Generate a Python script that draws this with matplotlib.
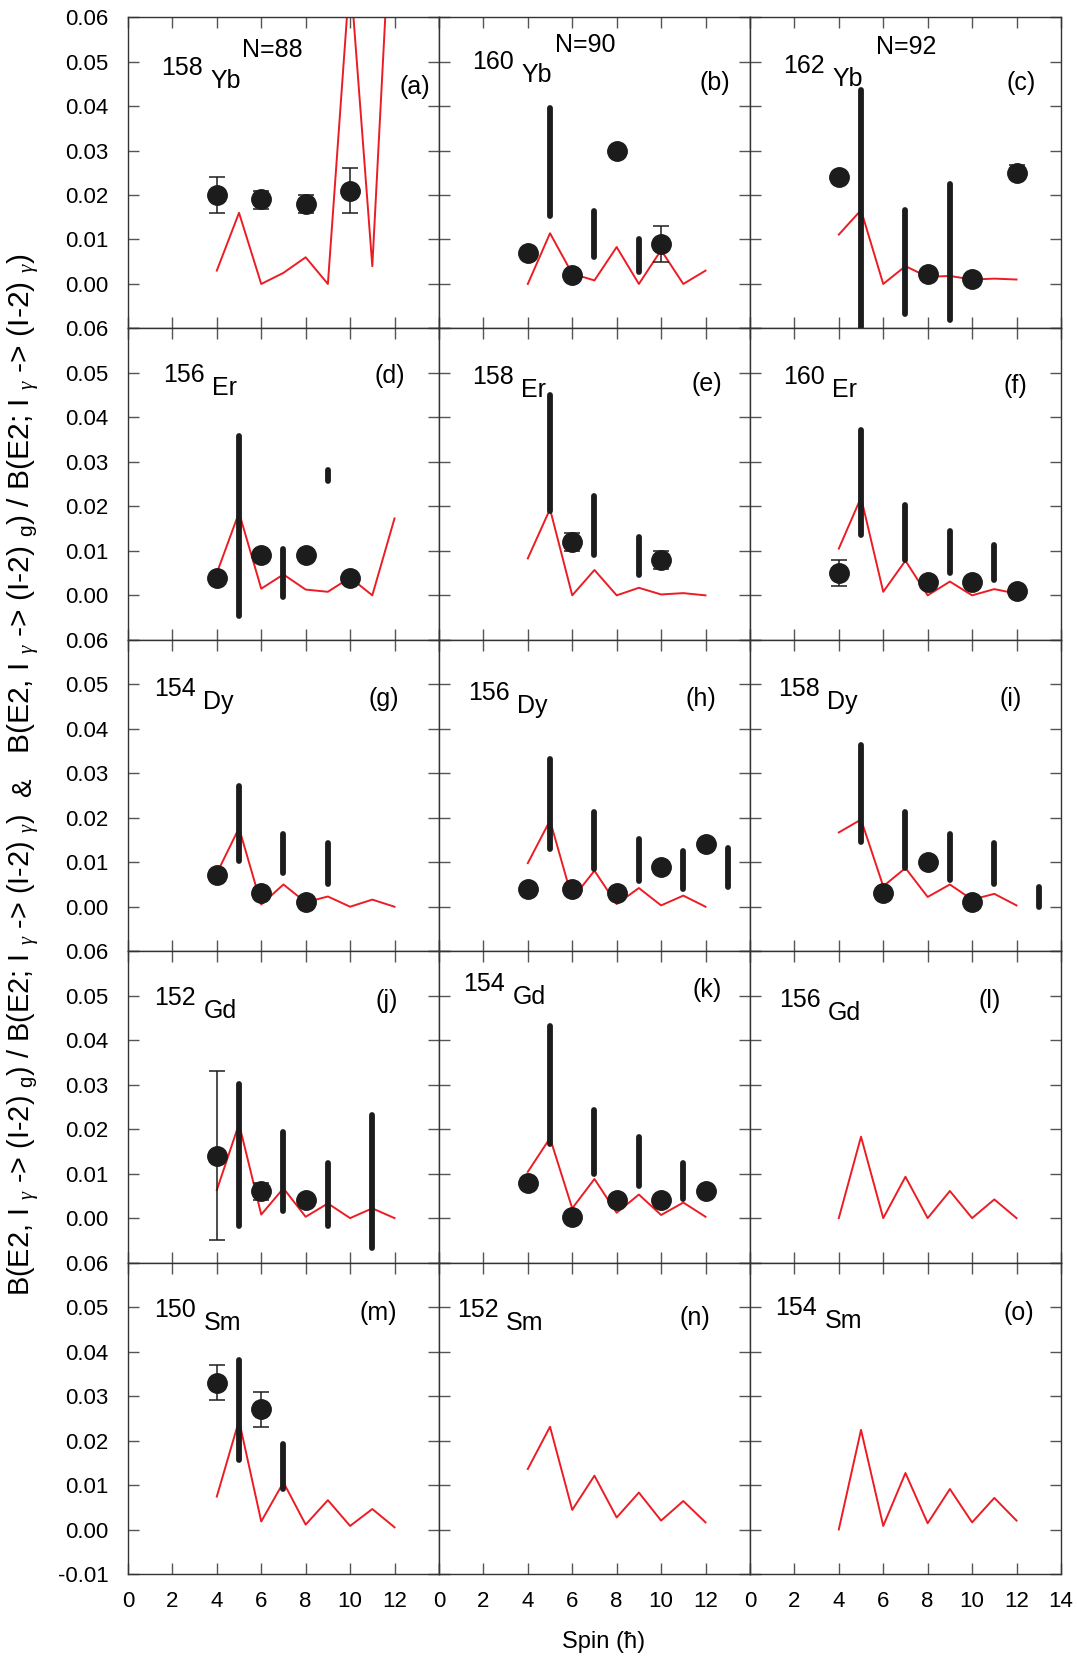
import numpy as np
import matplotlib
matplotlib.use("Agg")
import matplotlib.pyplot as plt

plt.rcParams['font.family'] = ['Liberation Sans', 'DejaVu Sans']
plt.rcParams['mathtext.fontset'] = 'custom'
plt.rcParams['mathtext.rm'] = 'Liberation Sans'
plt.rcParams['mathtext.it'] = 'Liberation Serif:italic'
plt.rcParams['axes.unicode_minus'] = False

# spins of the calculated (red) curves
spin_th = [4, 5, 6, 7, 8, 9, 10, 11, 12]

# calculated ratios, one list per nucleus
th_yb158 = [0.003, 0.016, 0.000, 0.0025, 0.006, 0.000, 0.070, 0.004, 0.100]
th_yb160 = [0.000, 0.0114, 0.0023, 0.0008, 0.0083, 0.000, 0.0076, 0.000, 0.003]
th_yb162 = [0.0111, 0.0166, 0.000, 0.004, 0.0016, 0.0018, 0.001, 0.0012, 0.001]
th_er156 = [0.005, 0.0186, 0.0015, 0.0047, 0.0013, 0.0008, 0.004, 0.000, 0.0173]
th_er158 = [0.0083, 0.0194, 0.000, 0.0057, 0.000, 0.0017, 0.0002, 0.0005, 0.000]
th_er160 = [0.0105, 0.022, 0.0008, 0.0078, 0.000, 0.0031, 0.000, 0.0014, 0.0004]
th_dy154 = [0.0075, 0.0177, 0.0005, 0.005, 0.001, 0.0023, 0.000, 0.0016, 0.000]
th_dy156 = [0.0098, 0.0194, 0.0018, 0.0081, 0.0006, 0.0042, 0.0003, 0.0025, 0.000]
th_dy158 = [0.0167, 0.0196, 0.0046, 0.0087, 0.0022, 0.005, 0.0016, 0.0029, 0.0003]
th_gd152 = [0.0063, 0.0212, 0.0008, 0.0067, 0.0003, 0.0033, 0.000, 0.0022, 0.000]
th_gd154 = [0.0104, 0.018, 0.0022, 0.0088, 0.0012, 0.0053, 0.0007, 0.0035, 0.0003]
th_gd156 = [0.000, 0.0183, 0.000, 0.0093, 0.000, 0.0061, 0.000, 0.0042, 0.000]
th_sm150 = [0.0074, 0.0245, 0.0018, 0.0106, 0.0011, 0.0066, 0.0008, 0.0046, 0.0005]
th_sm152 = [0.0136, 0.0231, 0.0044, 0.0121, 0.0027, 0.0083, 0.002, 0.0064, 0.0016]
th_sm154 = [0.000, 0.0224, 0.0008, 0.0127, 0.0014, 0.0091, 0.0016, 0.0071, 0.002]

# experimental even-spin points: spin, value, error low, error high (None = no bar)
ex_yb158 = ([4, 6, 8, 10], [0.020, 0.019, 0.018, 0.021],
            [0.016, 0.0169, 0.0159, 0.016], [0.024, 0.021, 0.020, 0.026])
ex_yb160 = ([4, 6, 8, 10], [0.007, 0.002, 0.030, 0.009],
            [None, None, None, 0.005], [None, None, None, 0.013])
ex_yb162 = ([4, 8, 10, 12], [0.024, 0.0022, 0.0012, 0.025],
            [None, None, None, 0.0235], [None, None, None, 0.0268])
ex_er156 = ([4, 6, 8, 10], [0.004, 0.009, 0.009, 0.004], None, None)
ex_er158 = ([6, 10], [0.0119, 0.008], [0.010, 0.006], [0.014, 0.010])
ex_er160 = ([4, 8, 10, 12], [0.005, 0.003, 0.003, 0.001],
            [0.002, None, None, None], [0.008, None, None, None])
ex_dy154 = ([4, 6, 8], [0.0071, 0.003, 0.001], None, None)
ex_dy156 = ([4, 6, 8, 10, 12], [0.004, 0.004, 0.003, 0.009, 0.014], None, None)
ex_dy158 = ([6, 8, 10], [0.003, 0.010, 0.001], None, None)
ex_gd152 = ([4, 6, 8], [0.014, 0.006, 0.004],
            [-0.005, 0.004, None], [0.033, 0.008, None])
ex_gd154 = ([4, 6, 8, 10, 12], [0.008, 0.0003, 0.004, 0.004, 0.006], None, None)
ex_sm150 = ([4, 6], [0.0329, 0.027], [0.029, 0.023], [0.037, 0.031])

# experimental odd-spin ranges: spin, lower limit, upper limit
rg_yb160 = ([5, 7, 9], [0.0153, 0.006, 0.0027], [0.0395, 0.0165, 0.010])
rg_yb162 = ([5, 7, 9], [-0.011, -0.0067, -0.0081], [0.0435, 0.0166, 0.0225])
rg_er156 = ([5, 7, 9], [-0.0047, -0.0004, 0.0256], [0.0359, 0.0105, 0.0282])
rg_er158 = ([5, 7, 9], [0.019, 0.009, 0.0045], [0.045, 0.0224, 0.0132])
rg_er160 = ([5, 7, 9, 11], [0.0136, 0.008, 0.005, 0.0035], [0.0372, 0.0203, 0.0144, 0.0113])
rg_dy154 = ([5, 7, 9], [0.0102, 0.0076, 0.005], [0.0272, 0.0164, 0.0144])
rg_dy156 = ([5, 7, 9, 11, 13], [0.013, 0.0085, 0.0057, 0.004, 0.0044],
            [0.0333, 0.0212, 0.0153, 0.0125, 0.0132])
rg_dy158 = ([5, 7, 9, 11, 13], [0.0146, 0.0086, 0.0061, 0.0051, 0.0],
            [0.0363, 0.0212, 0.0164, 0.0144, 0.0044])
rg_gd152 = ([5, 7, 9, 11], [-0.0018, 0.0017, -0.0018, -0.0068], [0.0302, 0.0193, 0.0125, 0.0232])
rg_gd154 = ([5, 7, 9, 11], [0.0167, 0.010, 0.0072, 0.0042], [0.0433, 0.0243, 0.0183, 0.0123])
rg_sm150 = ([5, 7], [0.0157, 0.0091], [0.0382, 0.0192])

mass_numbers = ['158', '160', '162', '156', '158', '160', '154', '156', '158',
                '152', '154', '156', '150', '152', '154']
elements = ['Yb', 'Yb', 'Yb', 'Er', 'Er', 'Er', 'Dy', 'Dy', 'Dy',
            'Gd', 'Gd', 'Gd', 'Sm', 'Sm', 'Sm']
panel_tags = ['(a)', '(b)', '(c)', '(d)', '(e)', '(f)', '(g)', '(h)', '(i)',
              '(j)', '(k)', '(l)', '(m)', '(n)', '(o)']
neutron_tags = ['N=88', 'N=90', 'N=92']

theory = [th_yb158, th_yb160, th_yb162, th_er156, th_er158, th_er160,
          th_dy154, th_dy156, th_dy158, th_gd152, th_gd154, th_gd156,
          th_sm150, th_sm152, th_sm154]
even_pts = [ex_yb158, ex_yb160, ex_yb162, ex_er156, ex_er158, ex_er160,
            ex_dy154, ex_dy156, ex_dy158, ex_gd152, ex_gd154, None,
            ex_sm150, None, None]
odd_rng = [None, rg_yb160, rg_yb162, rg_er156, rg_er158, rg_er160,
           rg_dy154, rg_dy156, rg_dy158, rg_gd152, rg_gd154, None,
           rg_sm150, None, None]

# label placement (data coords): mass-number left x, y ; tag centre x, y
lab_xy = [(1.5, 0.0486), (1.5, 0.0498), (1.5, 0.0490), (1.6, 0.0495), (1.5, 0.049),
          (1.5, 0.049), (1.2, 0.049), (1.3, 0.0481), (1.25, 0.049), (1.2, 0.0495),
          (1.1, 0.0526), (1.3, 0.049), (1.2, 0.0493), (0.8, 0.0493), (1.15, 0.0498)]
tag_xy = [(12.9, 0.0443), (12.4, 0.0452), (12.2, 0.0452), (11.8, 0.0493), (12.05, 0.0474),
          (11.95, 0.047), (11.5, 0.0467), (11.8, 0.0467), (11.75, 0.0467), (11.65, 0.0488),
          (12.05, 0.0512), (10.8, 0.0488), (11.25, 0.0486), (11.5, 0.0476), (12.1, 0.0486)]
n_xy = [(6.5, 0.0526), (6.6, 0.0538), (7.05, 0.0533)]

RED = '#ec1c24'
DARK = '#1c1c1c'

fig, axes = plt.subplots(5, 3, figsize=(10.77, 16.57), dpi=100)
fig.subplots_adjust(left=0.1188, right=0.9851, top=0.9897, bottom=0.0501,
                    wspace=0, hspace=0)

for i, ax in enumerate(axes.flat):
    row, col = divmod(i, 3)
    ax.plot(spin_th, theory[i], color=RED, lw=1.4, zorder=2)

    rg = odd_rng[i]
    if rg is not None:
        for s, lo, hi in zip(*rg):
            ax.plot([s, s], [lo, hi], color=DARK, lw=4.2,
                    solid_capstyle='round', zorder=3)

    ep = even_pts[i]
    if ep is not None:
        xs, ys, los, his = ep
        if los is not None:
            for x, y, lo, hi in zip(xs, ys, los, his):
                if lo is None:
                    continue
                ax.errorbar([x], [y], yerr=[[y - lo], [hi - y]], fmt='none',
                            ecolor=DARK, elinewidth=1.1, capsize=6, capthick=1.1,
                            zorder=3)
        ax.plot(xs, ys, 'o', color=DARK, ms=14, zorder=4)

    ax.set_xlim(0, 14)
    ax.set_ylim(-0.01, 0.06)
    ax.set_xticks(np.arange(0, 15, 2))
    ax.set_yticks(np.arange(-0.01, 0.061, 0.01))
    ax.tick_params(direction='in', length=8, width=1, color='#555555',
                   top=True, right=True, labelsize=16)
    ax.tick_params(axis='y', pad=14)
    ax.tick_params(axis='x', pad=12)
    for sp in ax.spines.values():
        sp.set_linewidth(1.0)
        sp.set_color('#333333')

    if col == 0:
        ylabs = ['%.2f' % v for v in np.arange(-0.01, 0.061, 0.01)]
        if row < 4:
            ylabs[0] = ''
        ax.set_yticklabels(ylabs)
    else:
        ax.set_yticklabels([])
    if row == 4:
        xlabs = [str(v) for v in range(0, 15, 2)]
        if col < 2:
            xlabs[-1] = ''
        ax.set_xticklabels(xlabs)
    else:
        ax.set_xticklabels([])

    mx, my = lab_xy[i]
    ax.text(mx, my, mass_numbers[i], fontsize=18, ha='left', va='center')
    ax.text(mx + 2.2, my - 0.0029, elements[i], fontsize=18, ha='left', va='center')
    tx, ty = tag_xy[i]
    ax.text(tx, ty, panel_tags[i], fontsize=18, ha='center', va='center')
    if row == 0:
        nx, ny = n_xy[col]
        ax.text(nx, ny, neutron_tags[col], fontsize=18, ha='center', va='center')

# y label: two copies of the ratio joined by "&", fitted to their span in pixels
H = 1657.0
ratio = (r'B(E2, I $_\gamma$ -> (I-2) $_{\rm g}$) / B(E2; I $_\gamma$ -> (I-2) $_\gamma$)')
t_low = fig.text(0.022, 1 - 1296 / H, ratio, rotation=90, ha='center',
                 va='bottom', fontsize=20)
t_up = fig.text(0.022, 1 - 254 / H, ratio, rotation=90, ha='center',
                va='top', fontsize=20)
fig.text(0.022, 1 - 787 / H, '&', rotation=90, ha='center', va='center', fontsize=20)
fig.canvas.draw()
for t, span in ((t_low, 482.0), (t_up, 500.0)):
    h = t.get_window_extent().height
    t.set_fontsize(20 * span / h)

fig.text(0.56, 0.009, 'Spin (ħ)', ha='center', va='center', fontsize=17)

fig.savefig('out.png', dpi=100)
